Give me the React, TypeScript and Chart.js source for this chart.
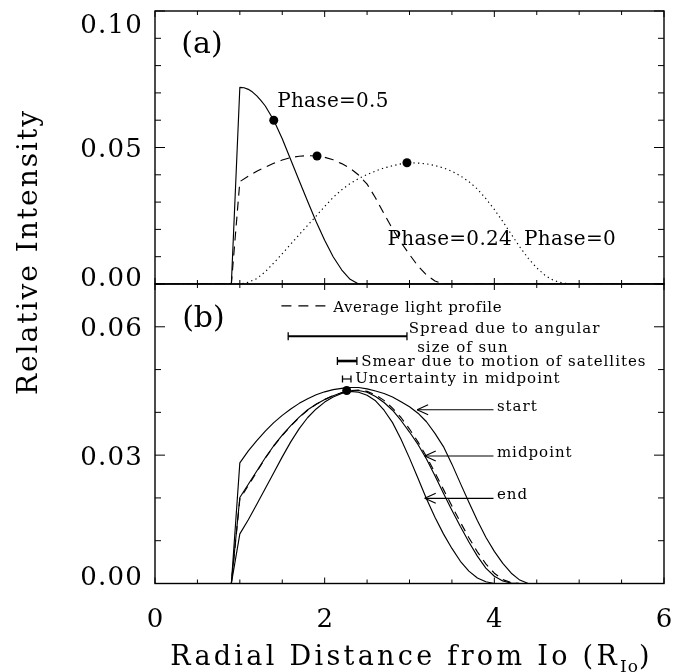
import React, { useEffect, useRef } from "react";
import { Chart, registerables } from "chart.js";

Chart.register(...registerables);

// ---------- panel (a): eclipse light profiles at three orbital phases ----------
const phase05X = [0, 0.9, 1.0, 1.05, 1.1, 1.15, 1.2, 1.25, 1.3, 1.4, 1.5, 1.6, 1.7, 1.8, 1.9, 2.0, 2.1, 2.2, 2.3, 2.4, 6];
const phase05Y = [0, 0, 0.072, 0.0719, 0.0713, 0.0703, 0.0689, 0.0672, 0.0652, 0.06, 0.0532, 0.0455, 0.0378, 0.0302, 0.0228, 0.016, 0.01, 0.0052, 0.0017, 0, 0];

const phase024X = [0, 0.9, 1.0, 1.1, 1.2, 1.3, 1.4, 1.5, 1.6, 1.7, 1.8, 1.9, 2.0, 2.1, 2.2, 2.3, 2.4, 2.5, 2.6, 2.7, 2.8, 2.9, 3.0, 3.1, 3.2, 3.3, 3.4, 6];
const phase024Y = [0, 0, 0.0375, 0.0395, 0.0413, 0.0428, 0.0442, 0.0454, 0.0463, 0.0468, 0.047, 0.0469, 0.0464, 0.0455, 0.0441, 0.0424, 0.0399, 0.0366, 0.0315, 0.0257, 0.0202, 0.0152, 0.0108, 0.0066, 0.0033, 0.0011, 0, 0];

const phase0X = [0, 1.0, 1.1, 1.2, 1.3, 1.4, 1.5, 1.6, 1.7, 1.8, 1.9, 2.0, 2.1, 2.2, 2.3, 2.4, 2.5, 2.6, 2.7, 2.8, 2.9, 3.0, 3.1, 3.2, 3.3, 3.4, 3.5, 3.6, 3.7, 3.8, 3.9, 4.0, 4.1, 4.2, 4.3, 4.4, 4.5, 4.6, 4.7, 4.8, 4.9, 6];
const phase0Y = [0, 0, 0.0006, 0.002, 0.0045, 0.0077, 0.0111, 0.0146, 0.0181, 0.0215, 0.0249, 0.0284, 0.0317, 0.0345, 0.0368, 0.0386, 0.0401, 0.0414, 0.0425, 0.0433, 0.044, 0.0444, 0.0443, 0.044, 0.0434, 0.0425, 0.0413, 0.0396, 0.0375, 0.0348, 0.0313, 0.0273, 0.0229, 0.0182, 0.0136, 0.0094, 0.0059, 0.0031, 0.0013, 0.0004, 0, 0];

// profile midpoints marked on each curve
const phaseMidX = [1.4, 1.91, 2.97];
const phaseMidY = [0.06, 0.0469, 0.0444];

// ---------- panel (b): profiles at start / midpoint / end of the event ----------
const profX = [0, 0.9, 1.0, 1.1, 1.2, 1.3, 1.4, 1.5, 1.6, 1.7, 1.8, 1.9, 2.0, 2.1, 2.2, 2.3, 2.4, 2.5, 2.6, 2.7, 2.8, 2.9, 3.0, 3.1, 3.2, 3.3, 3.4, 3.5, 3.6, 3.7, 3.8, 3.9, 4.0, 4.1, 4.2, 4.3, 4.4, 6];
const startY = [0, 0, 0.0282, 0.031, 0.0334, 0.0356, 0.0376, 0.0393, 0.0408, 0.0421, 0.0432, 0.0441, 0.0448, 0.0453, 0.0456, 0.0458, 0.0458, 0.0455, 0.045, 0.0444, 0.0436, 0.0425, 0.0413, 0.0398, 0.0378, 0.0351, 0.032, 0.0279, 0.0234, 0.019, 0.0147, 0.0108, 0.0075, 0.0047, 0.0024, 0.0008, 0, 0];
const midpointY = [0, 0, 0.0201, 0.0232, 0.0263, 0.0294, 0.0322, 0.0347, 0.0369, 0.0389, 0.0406, 0.0419, 0.043, 0.0439, 0.0446, 0.045, 0.0451, 0.0447, 0.0437, 0.0423, 0.0405, 0.0381, 0.0354, 0.0325, 0.0291, 0.0252, 0.0211, 0.0171, 0.0133, 0.0097, 0.0064, 0.0036, 0.0017, 0.0006, 0.0001, 0, 0, 0];
const endY = [0, 0, 0.0116, 0.0149, 0.0185, 0.0222, 0.0259, 0.0296, 0.0331, 0.0362, 0.0388, 0.0408, 0.0424, 0.0436, 0.0444, 0.0449, 0.0447, 0.044, 0.0427, 0.0405, 0.0376, 0.0337, 0.0293, 0.0246, 0.0198, 0.0155, 0.0116, 0.0082, 0.0052, 0.0029, 0.0013, 0.0004, 0, 0, 0, 0, 0, 0];
const averageY = [0, 0, 0.0197, 0.0229, 0.0261, 0.0293, 0.0321, 0.0346, 0.0368, 0.0388, 0.0405, 0.0419, 0.043, 0.0439, 0.0446, 0.0451, 0.0452, 0.0449, 0.0441, 0.0428, 0.041, 0.0388, 0.0361, 0.0331, 0.0297, 0.0259, 0.022, 0.0181, 0.0143, 0.0107, 0.0074, 0.0046, 0.0024, 0.0009, 0.0002, 0, 0, 0];

const avgMidX = [2.26];
const avgMidY = [0.0451];

// ---------- axes ----------
const X_MAX = 6;
const xMajorTicks = [0, 2, 4, 6];
const xTickLabels = ["0", "2", "4", "6"];
const X_MINOR_STEP = 0.5;

const topYMax = 0.1;
const topYTicks = [0, 0.05, 0.1];
const topYLabels = ["0.00", "0.05", "0.10"];
const botYMax = 0.07;
const botYTicks = [0, 0.03, 0.06];
const botYLabels = ["0.00", "0.03", "0.06"];
const Y_MINOR_STEP = 0.01;

const INK = "#000";
const SERIF = '"DejaVu Serif", "Liberation Serif", serif';
const W = 683;
const H = 672;

const pts = (xs: number[], ys: number[]) => xs.map((x, i) => ({ x, y: ys[i] }));

function curve(xs: number[], ys: number[], dash: number[] = []) {
  return {
    data: pts(xs, ys),
    borderColor: INK,
    borderWidth: 1.15,
    borderDash: dash,
    borderJoinStyle: "round",
    pointRadius: 0,
    tension: 0,
    fill: false,
  };
}

function markers(xs: number[], ys: number[]) {
  return {
    data: pts(xs, ys),
    showLine: false,
    pointRadius: 4.5,
    pointBackgroundColor: INK,
    pointBorderWidth: 0,
  };
}

function write(ctx: CanvasRenderingContext2D, s: string, x: number, y: number, size: number, align: CanvasTextAlign = "left", spacing = 0) {
  ctx.font = `${size}px ${SERIF}`;
  (ctx as any).letterSpacing = `${spacing}px`;
  ctx.textAlign = align;
  ctx.textBaseline = "alphabetic";
  ctx.fillStyle = INK;
  ctx.fillText(s, x, y);
}

function seg(ctx: CanvasRenderingContext2D, x1: number, y1: number, x2: number, y2: number) {
  ctx.beginPath();
  ctx.moveTo(x1, y1);
  ctx.lineTo(x2, y2);
  ctx.stroke();
}

const near = (a: number, b: number) => Math.abs(a - b) < 1e-9;

// IDL-style box: inward ticks on all four sides and value labels on the left
function framePlugin(yMax: number, yTicks: number[], yLabels: string[], extra: (chart: any) => void) {
  return {
    id: "idlFrame",
    afterDatasetsDraw(chart: any) {
      const { ctx, chartArea: a } = chart;
      const xs = chart.scales.x;
      const ys = chart.scales.y;
      ctx.save();
      ctx.strokeStyle = INK;
      ctx.lineWidth = 1;
      for (let i = 0; i * X_MINOR_STEP <= X_MAX + 1e-9; i++) {
        const v = i * X_MINOR_STEP;
        const px = xs.getPixelForValue(v);
        const len = xMajorTicks.some((t) => near(t, v)) ? 6 : 4;
        seg(ctx, px, a.bottom, px, a.bottom - len);
        seg(ctx, px, a.top, px, a.top + len);
      }
      for (let i = 0; i * Y_MINOR_STEP <= yMax + 1e-9; i++) {
        const v = i * Y_MINOR_STEP;
        const py = ys.getPixelForValue(v);
        const len = yTicks.some((t) => near(t, v)) ? 10 : 6;
        seg(ctx, a.left, py, a.left + len, py);
        seg(ctx, a.right, py, a.right - len, py);
      }
      ctx.lineWidth = 1.4;
      ctx.strokeRect(a.left, a.top, a.right - a.left, a.bottom - a.top);

      yTicks.forEach((v, i) => {
        const py = ys.getPixelForValue(v);
        const centre = Math.min(Math.max(py, a.top + 12), a.bottom - 8);
        write(ctx, yLabels[i], a.left - 12, centre + 9.5, 26, "right", 1.2);
      });
      extra(chart);
      ctx.restore();
    },
  };
}

function drawTopNotes(chart: any) {
  const { ctx } = chart;
  const X = (v: number) => chart.scales.x.getPixelForValue(v);
  const Y = (v: number) => chart.scales.y.getPixelForValue(v);
  write(ctx, "(a)", X(0.31), Y(0.0845), 30);
  write(ctx, "Phase=0.5", X(1.44), Y(0.0647), 20, "left", 0.3);
  write(ctx, "Phase=0.24", X(2.74), Y(0.0143), 20, "left", 0.3);
  write(ctx, "Phase=0", X(4.35), Y(0.0143), 20, "left", 0.3);
}

function errorBar(ctx: CanvasRenderingContext2D, x1: number, x2: number, y: number, width: number, cap: number) {
  ctx.lineWidth = width;
  seg(ctx, x1, y, x2, y);
  ctx.lineWidth = 1.3;
  seg(ctx, x1, y - cap, x1, y + cap);
  seg(ctx, x2, y - cap, x2, y + cap);
}

function arrow(ctx: CanvasRenderingContext2D, tipX: number, tailX: number, y: number) {
  ctx.lineWidth = 1.1;
  seg(ctx, tipX, y, tailX, y);
  seg(ctx, tipX, y, tipX + 11, y - 5);
  seg(ctx, tipX, y, tipX + 11, y + 5);
}

function drawBottomNotes(chart: any) {
  const { ctx, chartArea: a } = chart;
  const X = (v: number) => chart.scales.x.getPixelForValue(v);
  const Y = (v: number) => chart.scales.y.getPixelForValue(v);

  write(ctx, "(b)", X(0.32), Y(0.06), 30);

  // key for the dashed curve
  ctx.lineWidth = 1.2;
  ctx.setLineDash([10, 7]);
  seg(ctx, X(1.49), Y(0.0649), X(2.02), Y(0.0649));
  ctx.setLineDash([]);
  write(ctx, "Average light profile", X(2.1), Y(0.0635), 15, "left", 0.6);

  errorBar(ctx, X(1.57), X(2.97), Y(0.0578), 2, 4);
  write(ctx, "Spread due to angular", X(2.99), Y(0.0585), 15, "left", 1);
  write(ctx, "size of sun", X(3.09), Y(0.0542), 15, "left", 1);

  errorBar(ctx, X(2.15), X(2.38), Y(0.052), 2.6, 4);
  write(ctx, "Smear due to motion of satellites", X(2.43), Y(0.0508), 15, "left", 1);

  errorBar(ctx, X(2.21), X(2.31), Y(0.0478), 1.2, 3.5);
  write(ctx, "Uncertainty in midpoint", X(2.36), Y(0.0468), 15, "left", 1);

  const arrows: [string, number, number][] = [
    ["start", 3.09, 0.0406],
    ["midpoint", 3.18, 0.0298],
    ["end", 3.18, 0.0199],
  ];
  arrows.forEach(([name, tx, ty]) => {
    arrow(ctx, X(tx), X(3.99), Y(ty));
    write(ctx, name, X(4.03), Y(ty) + 1, 15, "left", 1);
  });

  // shared x axis labels and titles
  xMajorTicks.forEach((v, i) => write(ctx, xTickLabels[i], X(v), a.bottom + 43.5, 26, "center", 0));

  const main = "Radial Distance from Io (R";
  const sub = "Io";
  const close = ")";
  ctx.font = `27px ${SERIF}`;
  (ctx as any).letterSpacing = "3.3px";
  const w1 = ctx.measureText(main).width;
  const w3 = ctx.measureText(close).width;
  ctx.font = `17px ${SERIF}`;
  (ctx as any).letterSpacing = "1px";
  const w2 = ctx.measureText(sub).width;
  const base = a.bottom + 81.5;
  let x0 = (a.left + a.right) / 2 + 2 - (w1 + w2 + w3) / 2;
  write(ctx, main, x0, base, 27, "left", 3.3);
  x0 += w1;
  write(ctx, sub, x0, base + 7, 17, "left", 1);
  x0 += w2;
  write(ctx, close, x0, base, 27, "left", 3.3);

  ctx.save();
  ctx.translate(30, 252);
  ctx.rotate(-Math.PI / 2);
  ctx.font = `28px ${SERIF}`;
  (ctx as any).letterSpacing = "2px";
  ctx.textAlign = "center";
  ctx.textBaseline = "middle";
  ctx.fillStyle = INK;
  ctx.fillText("Relative Intensity", 0, 0);
  ctx.restore();
}

function baseOptions(padding: any, yMax: number) {
  return {
    responsive: false,
    animation: false,
    events: [],
    layout: { padding },
    scales: {
      x: { type: "linear", min: 0, max: X_MAX, display: false },
      y: { type: "linear", min: 0, max: yMax, display: false },
    },
    plugins: { legend: { display: false }, tooltip: { enabled: false } },
  };
}

export default function App() {
  const topRef = useRef<HTMLCanvasElement>(null);
  const botRef = useRef<HTMLCanvasElement>(null);

  useEffect(() => {
    const top = new Chart(topRef.current as HTMLCanvasElement, {
      type: "line",
      data: {
        datasets: [
          curve(phase05X, phase05Y),
          curve(phase024X, phase024Y, [9, 6]),
          curve(phase0X, phase0Y, [1.3, 3.3]),
          markers(phaseMidX, phaseMidY),
        ] as any,
      },
      options: baseOptions({ left: 155, right: 19, top: 11, bottom: 388 }, topYMax) as any,
      plugins: [framePlugin(topYMax, topYTicks, topYLabels, drawTopNotes)],
    });

    const bottom = new Chart(botRef.current as HTMLCanvasElement, {
      type: "line",
      data: {
        datasets: [
          curve(profX, startY),
          curve(profX, midpointY),
          curve(profX, endY),
          curve(profX, averageY, [8, 6]),
          markers(avgMidX, avgMidY),
        ] as any,
      },
      options: baseOptions({ left: 155, right: 19, top: 284, bottom: 88.5 }, botYMax) as any,
      plugins: [framePlugin(botYMax, botYTicks, botYLabels, drawBottomNotes)],
    });

    return () => {
      top.destroy();
      bottom.destroy();
    };
  }, []);

  const layer: React.CSSProperties = { position: "absolute", left: 0, top: 0 };
  return (
    <div style={{ position: "fixed", left: 0, top: 0, width: W, height: H, background: "#fff" }}>
      <canvas ref={topRef} width={W} height={H} style={layer} />
      <canvas ref={botRef} width={W} height={H} style={layer} />
    </div>
  );
}
